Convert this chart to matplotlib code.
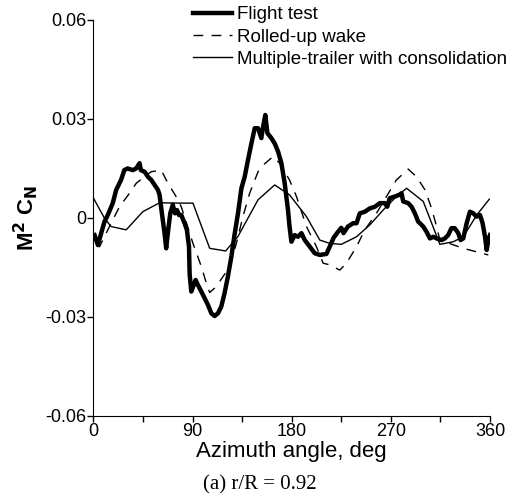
import matplotlib
matplotlib.use('Agg')
import matplotlib.pyplot as plt

plt.rcParams['font.family'] = ['Liberation Sans', 'DejaVu Sans']
plt.rcParams['axes.unicode_minus'] = False

# Flight test (thick line)
flight_az = [1, 4, 7, 10, 13, 17.5, 20.6, 25, 28, 31, 35.7, 38.8, 41.8, 43, 46.4, 49.4,
             52.5, 55.5, 58.5, 60, 61.5, 64.5, 66, 67.5, 69.7, 72, 74, 75.8, 77.6, 79.7,
             82.7, 84.8, 86.7, 87.3, 88, 88.8, 92.7, 94.8, 97.9, 100.9, 104, 107, 110,
             113, 116, 119, 122, 125.2, 128, 131.2, 134.3, 137.3, 140.3, 143.4, 146.4,
             149.4, 152.4, 154, 156, 157.9, 161.5, 164.5, 167.6, 170.6, 173.6, 176.6,
             178, 179.7, 182.7, 185.7, 188.8, 191.8, 196.4, 200.9, 205.5, 211.5, 214.5,
             218, 222, 225, 227, 231, 235.7, 238.8, 241.8, 246.4, 250.9, 255.5, 260,
             264.5, 266.7, 269, 273.6, 277.6, 279.7, 281.2, 285.7, 288.8, 291.8, 294.8,
             299.4, 302.4, 305.5, 308.5, 311.5, 316, 319, 322, 325, 328, 331.2, 333.3,
             335.7, 338.8, 341.8, 344.8, 347.9, 350.9, 353.3, 355.5, 357, 358.5, 360]
flight_cn = [-0.0052, -0.0082, -0.0046, -0.0011, 0.0009, 0.0045, 0.0085, 0.0115, 0.0145,
             0.015, 0.0145, 0.015, 0.0166, 0.0145, 0.014, 0.0125, 0.0115, 0.010, 0.0085,
             0.007, 0.003, -0.0046, -0.0092, -0.0046, 0.0014, 0.004, 0.0014, 0.0024,
             0.0009, 0.0009, -0.0016, -0.0036, -0.0087, -0.017, -0.0195, -0.0223, -0.0188,
             -0.0203, -0.0223, -0.0243, -0.0264, -0.0289, -0.0297, -0.0289, -0.0269,
             -0.0228, -0.0178, -0.0117, -0.0052, 0.0014, 0.009, 0.0125, 0.0176, 0.0226,
             0.0272, 0.0272, 0.0242, 0.0277, 0.0312, 0.0257, 0.0242, 0.0226, 0.0201,
             0.0166, 0.0105, 0.0024, -0.0026, -0.0072, -0.0052, -0.0057, -0.0046, -0.0067,
             -0.0087, -0.0107, -0.0112, -0.0109, -0.0087, -0.006, -0.0042, -0.003, -0.0046,
             -0.0026, -0.0016, -0.0016, 0.0014, 0.0019, 0.0029, 0.0034, 0.0045, 0.0045,
             0.0034, 0.006, 0.0065, 0.007, 0.0075, 0.005, 0.0045, 0.0034, 0.0014, -0.0011,
             -0.0026, -0.0042, -0.0062, -0.0057, -0.0062, -0.0067, -0.0062, -0.0052,
             -0.0031, -0.0031, -0.0046, -0.0067, -0.0062, -0.0016, 0.0019, 0.0014, 0.0004,
             0.0009, -0.0016, -0.0057, -0.0097, -0.0067, -0.0052]

# Rolled-up wake (dashed)
rolled_az = [3, 5.5, 14.5, 23.6, 32.7, 38.8, 48, 52.4, 61.5, 67.6, 75, 79.7, 90.3, 98,
             102.5, 105.5, 111.5, 117.5, 123.6, 129.7, 135.7, 141.8, 149.4, 154, 163,
             169, 178, 184.3, 193.4, 202.4, 208.5, 214.5, 223.6, 229.7, 238.8, 246.4,
             256.9, 266, 275, 285.7, 293.3, 301, 307, 311.5, 314.5, 335.7, 358.5]
rolled_cn = [-0.0085, -0.0087, -0.0026, 0.0034, 0.0075, 0.0105, 0.013, 0.014, 0.0145,
             0.0105, 0.0065, 0.0034, -0.0077, -0.0148, -0.0198, -0.0226, -0.0208, -0.0178,
             -0.0148, -0.0077, 0.0004, 0.0075, 0.014, 0.016, 0.0186, 0.0166, 0.0115,
             0.0065, -0.0026, -0.0087, -0.0137, -0.0142, -0.0158, -0.0137, -0.0087,
             -0.0036, 0.0014, 0.0065, 0.0115, 0.0148, 0.0125, 0.0085, 0.0029, -0.0026,
             -0.0067, -0.0092, -0.0112]

# Multiple-trailer with consolidation (thin)
multi_az = [0, 10, 16, 29.7, 44.8, 60, 78, 90.3, 105.5, 120, 131, 149.4, 164.5, 178,
            193.4, 205.5, 214.5, 225, 238.8, 250.9, 263, 275, 284.3, 299.4, 314.5, 326.7,
            335.7, 348, 359.4]
multi_cn = [0.006, -0.0001, -0.0026, -0.0036, 0.0019, 0.0046, 0.0045, 0.0045, -0.0092,
            -0.01, -0.0057, 0.0055, 0.01, 0.007, 0.0004, -0.0067, -0.0077, -0.008, -0.0057,
            -0.0021, 0.0024, 0.0065, 0.009, 0.005, -0.008, -0.0072, -0.0057, 0.0009, 0.0057]

x_ticks = [0, 90, 180, 270, 360]
y_ticks = [-0.06, -0.03, 0, 0.03, 0.06]
y_labels = ['-0.06', '-0.03', '0', '0.03', '0.06']

fig = plt.figure(figsize=(5.12, 5.01), dpi=100)
ax = fig.add_axes([0.1826, 0.1697, 0.7744, 0.7905])

ax.plot(flight_az, flight_cn, color='black', lw=3.2, label='Flight test')
ax.plot(rolled_az, rolled_cn, color='black', lw=1.0, linestyle=(0, (7, 6)),
        label='Rolled-up wake')
ax.plot(multi_az, multi_cn, color='black', lw=1.0,
        label='Multiple-trailer with consolidation')

ax.set_xlim(0, 360)
ax.set_ylim(-0.06, 0.06)
ax.set_xticks(x_ticks)
ax.set_xticks([45, 135, 225, 315], minor=True)
ax.set_yticks(y_ticks)
ax.set_yticklabels(y_labels)
ax.tick_params(axis='both', which='both', direction='out', length=4, width=1,
               labelsize=13, pad=1)
ax.spines['top'].set_visible(False)
ax.spines['right'].set_visible(False)

ax.set_xlabel('Azimuth angle, deg', fontsize=16, labelpad=1)
ax.set_ylabel(r'M$^\mathbf{2}$ C$_\mathbf{N}$', fontsize=16, fontweight='bold', labelpad=4)

leg = ax.legend(loc='upper left', bbox_to_anchor=(193 / 512, 1 - 6 / 501),
                bbox_transform=fig.transFigure, frameon=False, fontsize=13.5,
                handlelength=2.1, handletextpad=0.25, labelspacing=0.28,
                borderpad=0, borderaxespad=0)

fig.text(260 / 512, 1 - 485 / 501, '(a) r/R = 0.92', ha='center', va='center',
         fontsize=15, family='Liberation Serif')

fig.savefig('out.png', dpi=100)
